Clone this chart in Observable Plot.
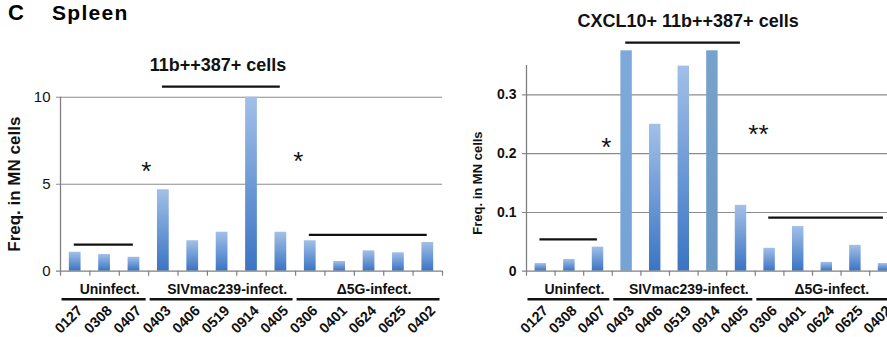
<!DOCTYPE html>
<html>
<head>
<meta charset="utf-8">
<script src="https://cdn.jsdelivr.net/npm/d3@7"></script>
<script src="https://cdn.jsdelivr.net/npm/@observablehq/plot@0.6"></script>
<style>
  html, body { margin: 0; padding: 0; background: #fff; }
  #wrap { position: relative; width: 887px; height: 337px; overflow: hidden; font-family: "Liberation Sans", Arial, sans-serif; }
  #header { position: absolute; left: 0; top: 0; }
  #left { position: absolute; left: 0; top: 0; width: 445px; height: 337px; }
  #right { position: absolute; left: 445px; top: 0; width: 460px; height: 337px; }
  #wrap svg { max-width: none !important; overflow: visible; }
</style>
</head>
<body>
<svg width="0" height="0" style="position:absolute">
  <defs>
    <linearGradient id="gradBar" x1="0" y1="0" x2="0" y2="1">
      <stop offset="0" stop-color="#a2c0e8"/>
      <stop offset="1" stop-color="#3a74c3"/>
    </linearGradient>
    <linearGradient id="flatLight" x1="0" y1="0" x2="0" y2="1">
      <stop offset="0" stop-color="#7eaadb"/>
      <stop offset="1" stop-color="#75a3d6"/>
    </linearGradient>
    <linearGradient id="flatGray" x1="0" y1="0" x2="0" y2="1">
      <stop offset="0" stop-color="#77a2cb"/>
      <stop offset="1" stop-color="#6a98c4"/>
    </linearGradient>
  </defs>
</svg>
<div id="wrap">
  <div id="left"></div>
  <div id="right"></div>
  <svg id="header" width="200" height="30">
    <text x="8" y="20" font-family="Liberation Sans, Arial, sans-serif" font-weight="bold" font-size="22" fill="#000">C</text>
    <text x="52" y="19.5" font-family="Liberation Sans, Arial, sans-serif" font-weight="bold" font-size="21" letter-spacing="1.3" fill="#000">Spleen</text>
  </svg>
</div>
<script>
// ---- data ----
const animals = ["0127","0308","0407","0403","0406","0519","0914","0405","0306","0401","0624","0625","0402"];
const groupNames = ["Uninfect.", "SIVmac239-infect.", "\u03945G-infect."];
const groupStart = [0, 3, 8];
const groupEnd = [3, 8, 13];

const freqCells = [1.09, 0.96, 0.80, 4.68, 1.75, 2.24, 10.0, 2.24, 1.75, 0.56, 1.17, 1.06, 1.65];
const freqCxcl10 = [0.013, 0.020, 0.041, 0.375, 0.250, 0.349, 0.375, 0.112, 0.039, 0.076, 0.015, 0.044, 0.013];

const yTicksLeft = [0, 5, 10];
const yTicksRight = [0, 0.1, 0.2, 0.3];

const titleLeft = "11b++387+ cells";
const titleRight = "CXCL10+ 11b++387+ cells";
const yLabel = "Freq. in MN cells";

// significance bracket levels (one per group) and star annotations
const sigLevelLeft = [1.53, 10.61, 2.09];
const sigLevelRight = [0.054, 0.389, 0.091];
const starTextLeft = ["*", "*"];
const starXLeft = [2.92, 8.09];
const starYLeft = [5.7, 6.3];
const starTextRight = ["*", "**"];
const starXRight = [2.79, 8.11];
const starYRight = [0.211, 0.233];

// ---- chart builder ----
function panel(o) {
  const data = animals.map((id, i) => ({id, i, v: o.values[i]}));
  const groups = groupNames.map((name, k) => ({name, start: groupStart[k], end: groupEnd[k], level: o.sigLevels[k]}));
  const stars = o.starText.map((t, k) => ({t, x: o.starX[k], y: o.starY[k]}));
  const ink = "#111";
  const axisGray = "#7f7f7f";
  const yMid = (o.yDomain[0] + o.yTicks[o.yTicks.length - 1]) / 2;
  return Plot.plot({
    width: o.width,
    height: 337,
    marginLeft: o.marginLeft,
    marginRight: o.marginRight,
    marginTop: o.marginTop,
    marginBottom: 66.3,
    x: {domain: [0, 13], axis: null},
    y: {domain: o.yDomain, axis: null},
    color: {type: "identity"},
    style: {fontFamily: "'Liberation Sans', Arial, sans-serif", background: "transparent", overflow: "visible", maxWidth: "none"},
    marks: [
      // gridlines with small left stubs
      Plot.ruleY(o.yTicks.filter(t => t > 0), {stroke: "#8c8c8c", strokeWidth: 1.1, insetLeft: -4}),
      // bars
      Plot.rectY(data, {x1: d => d.i + 0.3, x2: d => d.i + 0.7, y: "v", fill: d => o.fills[d.i]}),
      // axes lines
      Plot.ruleX([0], {stroke: axisGray, strokeWidth: 1.3}),
      Plot.ruleY([0], {stroke: axisGray, strokeWidth: 1.3, insetLeft: -4}),
      // category boundary ticks
      Plot.ruleX(d3.range(14), {y1: 0, y2: 0, insetBottom: -5, stroke: axisGray, strokeWidth: 1.2}),
      // y tick labels
      Plot.text(o.yTicks, {x: 0, y: d => d, text: d => String(d), textAnchor: "end", lineAnchor: "middle", dx: -10,
        fontSize: o.tickFont, fontWeight: o.tickWeight, fill: ink}),
      // rotated category labels
      Plot.text(data, {x: d => d.i + 0.5, y: 0, text: "id", rotate: -45, textAnchor: "end", lineAnchor: "middle",
        dx: 5, dy: 37, fontSize: 14.5, fontWeight: "bold", fill: ink}),
      // group labels
      Plot.text(groups, {x: d => (d.start + d.end) / 2, y: 0, text: "name", textAnchor: "middle", lineAnchor: "middle",
        dx: 5, dy: 18, fontSize: 14, fontWeight: "bold", fill: ink}),
      // group underlines
      Plot.ruleY(groups, {x1: "start", x2: "end", y: 0, dy: 28, insetLeft: 1.5, insetRight: 2.5,
        stroke: ink, strokeWidth: 2.6}),
      // significance brackets
      Plot.ruleY(groups, {x1: d => d.start + 0.47, x2: d => d.end - 0.52, y: "level", stroke: ink, strokeWidth: 2.2}),
      // stars
      Plot.text(stars, {x: "x", y: "y", text: "t", textAnchor: "middle", lineAnchor: "middle", fontSize: 26, fill: ink}),
      // title
      Plot.text([o.title], {x: o.titleX, y: o.yTicks[o.yTicks.length - 1], textAnchor: "middle", lineAnchor: "middle",
        dy: o.titleDy, fontSize: 18, fontWeight: "bold", fill: ink}),
      // y label
      Plot.text([yLabel], {x: 0, y: yMid, rotate: -90, textAnchor: "middle", lineAnchor: "middle",
        dx: o.ylabelDx, dy: o.ylabelDy, fontSize: o.ylabelFont, fontWeight: "bold", fill: ink})
    ]
  });
}

const leftFills = animals.map(() => "url(#gradBar)");
const rightFills = animals.map(id => id === "0403" ? "url(#flatLight)" : id === "0914" ? "url(#flatGray)" : "url(#gradBar)");

document.getElementById("left").appendChild(panel({
  values: freqCells, yDomain: [0, 10], yTicks: yTicksLeft,
  width: 445, marginLeft: 60, marginRight: 3, marginTop: 96.7,
  tickFont: 15, tickWeight: "normal",
  sigLevels: sigLevelLeft, starText: starTextLeft, starX: starXLeft, starY: starYLeft,
  title: titleLeft, titleX: 5.36, titleDy: -31.7,
  ylabelDx: -46, ylabelDy: 0, ylabelFont: 17, fills: leftFills
}));

document.getElementById("right").appendChild(panel({
  values: freqCxcl10, yDomain: [0, 0.35], yTicks: yTicksRight,
  width: 460, marginLeft: 81, marginRight: 7.2, marginTop: 65,
  tickFont: 14, tickWeight: "bold",
  sigLevels: sigLevelRight, starText: starTextRight, starX: starXRight, starY: starYRight,
  title: titleRight, titleX: 5.65, titleDy: -74,
  ylabelDx: -48.5, ylabelDy: 0, ylabelFont: 13, fills: rightFills
}));
</script>
</body>
</html>
